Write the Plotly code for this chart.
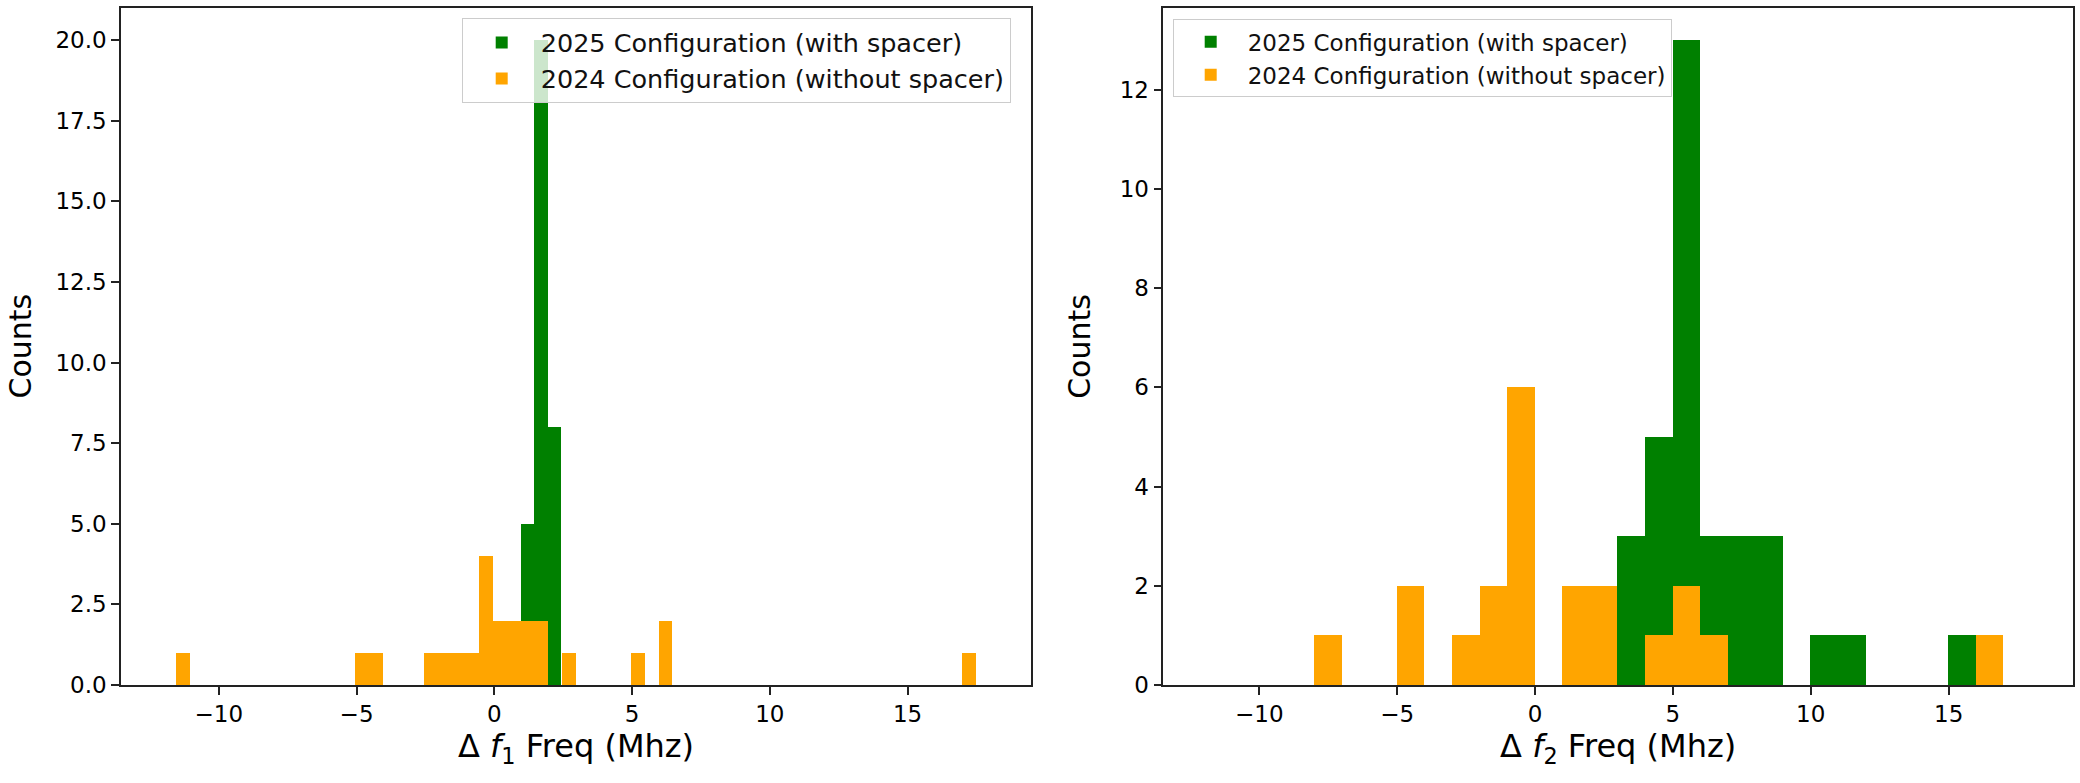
import plotly.graph_objects as go

# ---------------- data ----------------
# Left panel: Delta f1 histograms (bin left edges, counts)
f1_2025_edges = [0.970, 1.453, 1.937]
f1_2025_counts = [5, 20, 8]
f1_2025_width = 0.483

f1_2024_edges = [-11.56, -5.05, -4.55, -2.55, -2.05, -1.55, -1.05, -0.55, -0.04,
                 0.46, 0.96, 1.46, 2.46, 4.96, 5.96, 16.98]
f1_2024_counts = [1, 1, 1, 1, 1, 1, 1, 4, 2, 2, 2, 2, 1, 1, 2, 1]
f1_2024_width = 0.5007

# Right panel: Delta f2 histograms (bin left edges, counts)
f2_2025_edges = [3, 4, 5, 6, 7, 8, 10, 11, 15]
f2_2025_counts = [3, 5, 13, 3, 3, 3, 1, 1, 1]
f2_2024_edges = [-8, -5, -3, -2, -1, 1, 2, 4, 5, 6, 16]
f2_2024_counts = [1, 2, 1, 2, 6, 2, 2, 1, 2, 1, 1]
f2_width = 1.0

x_ticks = [-10, -5, 0, 5, 10, 15]
label_2025 = "2025 Configuration (with spacer)"
label_2024 = "2024 Configuration (without spacer)"
y_title = "Counts"

GREEN = "#008000"
ORANGE = "#FFA500"
FONT = "DejaVu Sans"

fig = go.Figure()

def add_hist(edges, counts, width, color, name, xa, ya, legend):
    fig.add_trace(go.Bar(
        x=edges, y=counts, width=[width] * len(edges), offset=0,
        marker=dict(color=color, line=dict(width=0)),
        name=name, xaxis=xa, yaxis=ya, legend=legend,
        hoverinfo="x+y",
    ))

add_hist(f1_2025_edges, f1_2025_counts, f1_2025_width, GREEN, label_2025, "x", "y", "legend")
add_hist(f1_2024_edges, f1_2024_counts, f1_2024_width, ORANGE, label_2024, "x", "y", "legend")
add_hist(f2_2025_edges, f2_2025_counts, f2_width, GREEN, label_2025, "x2", "y2", "legend2")
add_hist(f2_2024_edges, f2_2024_counts, f2_width, ORANGE, label_2024, "x2", "y2", "legend2")

W, H = 2080, 783
ML, MR, MT, MB = 121, 7, 8, 98
PW = W - ML - MR

axis_common = dict(
    showline=True, mirror=True, linecolor="#222222", linewidth=1.5,
    ticks="outside", ticklen=8, tickwidth=1.5, tickcolor="#222222",
    showgrid=False, zeroline=False,
    tickfont=dict(family=FONT, size=23, color="black"),
)

fig.update_layout(
    width=W, height=H,
    margin=dict(l=ML, r=MR, t=MT, b=MB, autoexpand=False),
    paper_bgcolor="white", plot_bgcolor="white",
    barmode="overlay", bargap=0,
    font=dict(family=FONT, color="black"),
    showlegend=True,
    xaxis=dict(domain=[0, (1031 - ML) / PW], range=[-13.55, 19.48], tickvals=x_ticks,
               title=dict(text="Δ <i>f</i><sub>1</sub> Freq (Mhz)",
                          font=dict(family=FONT, size=32), standoff=8),
               anchor="y", automargin=False, **axis_common),
    yaxis=dict(domain=[0, 1], range=[0, 21], dtick=2.5, tick0=0, tickformat=".1f",
               anchor="x", automargin=False, **axis_common),
    xaxis2=dict(domain=[(1163.3 - ML) / PW, 1], range=[-13.48, 19.51], tickvals=x_ticks,
                title=dict(text="Δ <i>f</i><sub>2</sub> Freq (Mhz)",
                           font=dict(family=FONT, size=32), standoff=8),
                anchor="y2", automargin=False, **axis_common),
    yaxis2=dict(domain=[0, 1], range=[0, 13.65], dtick=2, tick0=0,
                title=dict(text=y_title, font=dict(family=FONT, size=30), standoff=20),
                anchor="x2", automargin=True, **axis_common),
    legend=dict(
        xref="container", yref="container", x=461.7 / W, y=1 - 18.3 / H,
        xanchor="left", yanchor="top",
        bgcolor="rgba(255,255,255,0.8)", bordercolor="#cccccc", borderwidth=1,
        font=dict(family=FONT, size=25.5, color="#111111"),
        itemwidth=68,
    ),
    legend2=dict(
        xref="container", yref="container", x=1172.7 / W, y=1 - 19.3 / H,
        xanchor="left", yanchor="top",
        bgcolor="rgba(255,255,255,0.8)", bordercolor="#cccccc", borderwidth=1,
        font=dict(family=FONT, size=23, color="#111111"),
        itemwidth=64,
    ),
)

# Left y-axis title (placed as a rotated annotation beside the left axis)
fig.add_annotation(
    text=y_title, xref="paper", yref="paper", x=(20 - ML) / PW, y=0.5,
    xanchor="center", yanchor="middle", textangle=-90, showarrow=False,
    font=dict(family=FONT, size=30, color="black"),
)

fig.write_html("out.html")
